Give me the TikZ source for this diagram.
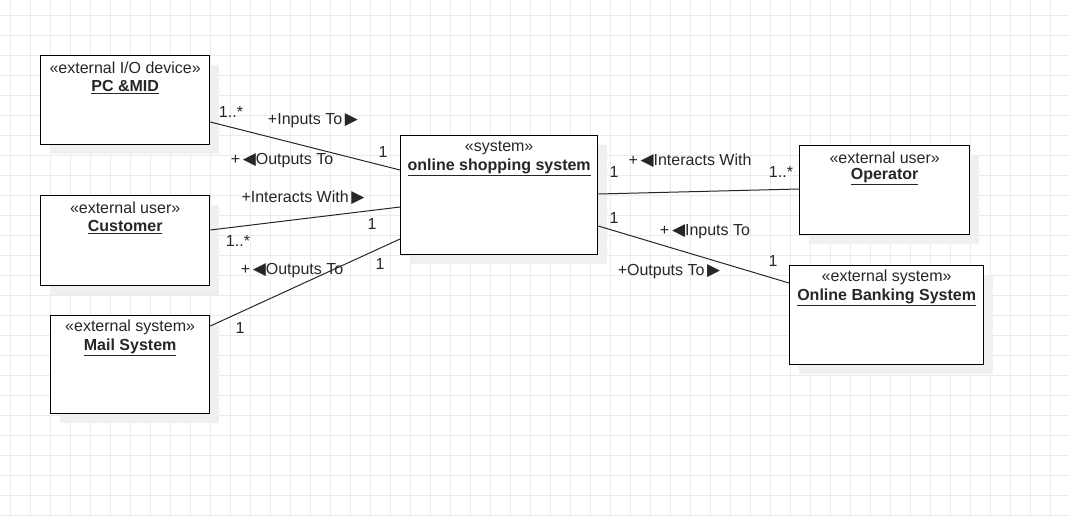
\documentclass[tikz,border=0pt]{standalone}
\usepackage{fontspec}
\setmainfont{Liberation Sans}
\newfontfamily\symfont{DejaVu Sans}
\usetikzlibrary{shadows}
\newcommand{\rtri}{{\symfont\fontsize{17}{17}\selectfont ▶}}
\newcommand{\ltri}{{\symfont\fontsize{17}{17}\selectfont ◀}}
\begin{document}
\begin{tikzpicture}[x=1pt,y=-1pt,
  umlbox/.style={draw=black,line width=1.3pt,fill=white,anchor=north west,inner sep=0pt,
     general shadow={fill=black!6,shadow xshift=9pt,shadow yshift=-9pt}},
  stereo/.style={font=\fontsize{16}{18}\selectfont,inner sep=0pt,text=black!85},
  bname/.style={font=\fontsize{16}{18}\selectfont\bfseries,inner sep=0pt,text=black!85},
  lbl/.style={font=\fontsize{16}{18}\selectfont,inner sep=0pt,text=black!85},
  conn/.style={line width=1pt,draw=black!85}]
\useasboundingbox (0,0) rectangle (1069,517);
% grid
\foreach \gx in {10,30,...,1069} \draw[black!8,line width=0.8pt] (\gx,0) -- (\gx,517);
\foreach \gy in {15,35,...,517} \draw[black!8,line width=0.8pt] (0,\gy) -- (1069,\gy);
% boxes
\node[umlbox,minimum width=169pt,minimum height=89pt] (pc) at (40,55) {};
\node[umlbox,minimum width=169pt,minimum height=90pt] (cust) at (40,195) {};
\node[umlbox,minimum width=159pt,minimum height=98pt] (mail) at (50,315) {};
\node[umlbox,minimum width=197pt,minimum height=119pt] (sys) at (400,135) {};
\node[umlbox,minimum width=170pt,minimum height=89pt] (op) at (799,145) {};
\node[umlbox,minimum width=194pt,minimum height=99pt] (bank) at (789,265) {};
% titles
\node[stereo] (pcs) at ([yshift=-12.5pt]pc.north) {«external I/O device»};
\node[bname] (pcn) at ([yshift=-32pt]pc.north) {\underline{PC \&MID}};
\node[stereo] (custs) at ([yshift=-12.5pt]cust.north) {«external user»};
\node[bname] (custn) at ([yshift=-32pt]cust.north) {\underline{Customer}};
\node[stereo] (mails) at ([yshift=-12.5pt]mail.north) {«external system»};
\node[bname] (mailn) at ([yshift=-32pt]mail.north) {\underline{Mail System}};
\node[stereo] (syss) at ([yshift=-12.5pt]sys.north) {«system»};
\node[bname] (sysn) at ([yshift=-32pt]sys.north) {\underline{online shopping system}};
\node[stereo] (ops) at ([yshift=-12.5pt]op.north) {«external user»};
\node[bname] (opn) at ([yshift=-32pt]op.north) {\underline{Operator}};
\node[stereo] (banks) at ([yshift=-12.5pt]bank.north) {«external system»};
\node[bname] (bankn) at ([yshift=-32pt]bank.north) {\underline{Online Banking System}};
% connectors
\draw[conn] ([yshift=-67pt]pc.north east) -- ([yshift=-35pt]sys.north west);
\draw[conn] ([yshift=-35pt]cust.north east) -- ([yshift=-72pt]sys.north west);
\draw[conn] ([yshift=-11pt]mail.north east) -- ([yshift=-104pt]sys.north west);
\draw[conn] ([yshift=-59pt]sys.north east) -- ([yshift=-44pt]op.north west);
\draw[conn] ([yshift=-91pt]sys.north east) -- ([yshift=-18pt]bank.north west);
% labels
\node[lbl] (l1) at (231,112) {1..*};
\node[lbl] (l2) at (313,121) {+Inputs To\,\rtri};
\node[lbl] (l3) at (383,152) {1};
\node[lbl] (l4) at (282,161) {+\,\ltri Outputs To};
\node[lbl] (l5) at (303,198) {+Interacts With\,\rtri};
\node[lbl] (l6) at (372,224) {1};
\node[lbl] (l7) at (238,241) {1..*};
\node[lbl] (l8) at (292,271) {+\,\ltri Outputs To};
\node[lbl] (l9) at (380,264) {1};
\node[lbl] (l10) at (240,328) {1};
\node[lbl] (r1) at (614,172) {1};
\node[lbl] (r2) at (690,161) {+\,\ltri Interacts With};
\node[lbl] (r3) at (781,172) {1..*};
\node[lbl] (r4) at (614,218) {1};
\node[lbl] (r5) at (705,232) {+\,\ltri Inputs To};
\node[lbl] (r6) at (773,261) {1};
\node[lbl] (r7) at (669,272) {+Outputs To\,\rtri};
\end{tikzpicture}
\end{document}
